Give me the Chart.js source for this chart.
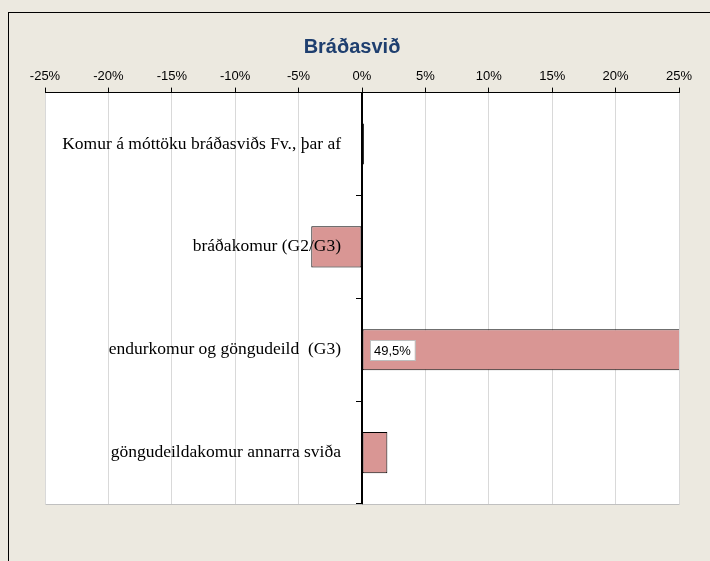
<!DOCTYPE html>
<html>
<head>
<meta charset="utf-8">
<script src="https://cdn.jsdelivr.net/npm/chart.js@4/dist/chart.umd.min.js"></script>
<style>
  html, body { margin: 0; padding: 0; background: #ECE9E0; overflow: hidden; }
  #frame { position: absolute; left: 8px; top: 12px; width: 800px; height: 700px; border: 1px solid #000; }
  #wrap { position: absolute; left: 0; top: 0; width: 710px; height: 561px; }
</style>
</head>
<body>
<div id="frame"></div>
<div id="wrap"><canvas id="barChart" width="710" height="561"></canvas></div>
<script>
const chartTitle = "Bráðasvið";
const categories = [
  "Komur á móttöku bráðasviðs Fv., þar af",
  "bráðakomur (G2/G3)",
  "endurkomur og göngudeild  (G3)",
  "göngudeildakomur annarra sviða"
];
const changePct = [0.15, -4.0, 49.5, 2.0];
const labelledBars = [2];
const axisMin = -25, axisMax = 25, axisStep = 5;

// white plot area, grey frame, category names, the "49,5%" box
const plotDeco = {
  id: "plotDeco",
  beforeDraw(chart) {
    const a = chart.chartArea, c = chart.ctx;
    c.save();
    c.fillStyle = "#fff";
    c.fillRect(a.left, a.top, a.right - a.left, a.bottom - a.top);
    c.restore();
  },
  afterDatasetsDraw(chart) {
    const a = chart.chartArea, c = chart.ctx;
    const xs = chart.scales.x, ys = chart.scales.y;
    c.save();
    c.strokeStyle = "#C0C0C0";
    c.lineWidth = 1;
    c.beginPath();
    c.moveTo(a.left + 0.5, a.bottom + 0.5);
    c.lineTo(a.right + 0.5, a.bottom + 0.5);
    c.stroke();

    // category names sit inside the plot, left of the zero line
    c.font = "17.5px 'Liberation Serif', 'Times New Roman', serif";
    c.fillStyle = "#000";
    c.textAlign = "right";
    c.textBaseline = "middle";
    const x0 = xs.getPixelForValue(0);
    categories.forEach((name, i) => {
      c.fillText(name, x0 - 21, ys.getPixelForTick(i));
    });

    const meta = chart.getDatasetMeta(0);
    c.font = "13px 'Liberation Sans', Arial";
    c.textAlign = "left";
    labelledBars.forEach(i => {
      const bar = meta.data[i];
      const txt = changePct[i].toFixed(1).replace(".", ",") + "%";
      const w = c.measureText(txt).width + 8;
      const x = Math.round(bar.base) + 7, y = Math.round(bar.y);
      c.fillStyle = "#fff";
      c.fillRect(x, y - 10, w, 20);
      c.strokeStyle = "#BFBFBF";
      c.strokeRect(x + 0.5, y - 9.5, w, 20);
      c.fillStyle = "#000";
      c.fillText(txt, x + 4, y + 1);
    });
    c.restore();
  },
  afterDraw(chart) {
    const c = chart.ctx;
    c.save();
    c.font = "bold 20px 'Liberation Sans', Arial";
    c.fillStyle = "#1F3F6F";
    c.textAlign = "center";
    c.textBaseline = "middle";
    c.fillText(chartTitle, 352, 47);
    c.restore();
  }
};

new Chart(document.getElementById("barChart"), {
  type: "bar",
  data: {
    labels: categories,
    datasets: [{
      data: changePct,
      backgroundColor: "#D99694",
      borderColor: "#000",
      borderWidth: 1,
      borderSkipped: false,
      categoryPercentage: 1,
      barPercentage: 0.4
    }]
  },
  options: {
    indexAxis: "y",
    responsive: false,
    animation: false,
    layout: { padding: { left: 45, right: 31, top: 66, bottom: 57 } },
    plugins: { legend: { display: false }, tooltip: { enabled: false } },
    scales: {
      x: {
        position: "top",
        min: axisMin,
        max: axisMax,
        grid: { color: "#D9D9D9", tickColor: "#000", tickLength: 5 },
        border: { color: "#000", width: 1 },
        ticks: {
          stepSize: axisStep,
          padding: 3,
          color: "#000",
          font: { family: "'Liberation Sans', Arial", size: 13 },
          callback: v => v + "%"
        }
      },
      y: {
        position: { x: 0 },
        z: 1,
        grid: { drawOnChartArea: false, tickColor: "#000", tickLength: 5, offset: true },
        border: { color: "#000", width: 2 },
        ticks: { display: false }
      }
    }
  },
  plugins: [plotDeco]
});
</script>
</body>
</html>
